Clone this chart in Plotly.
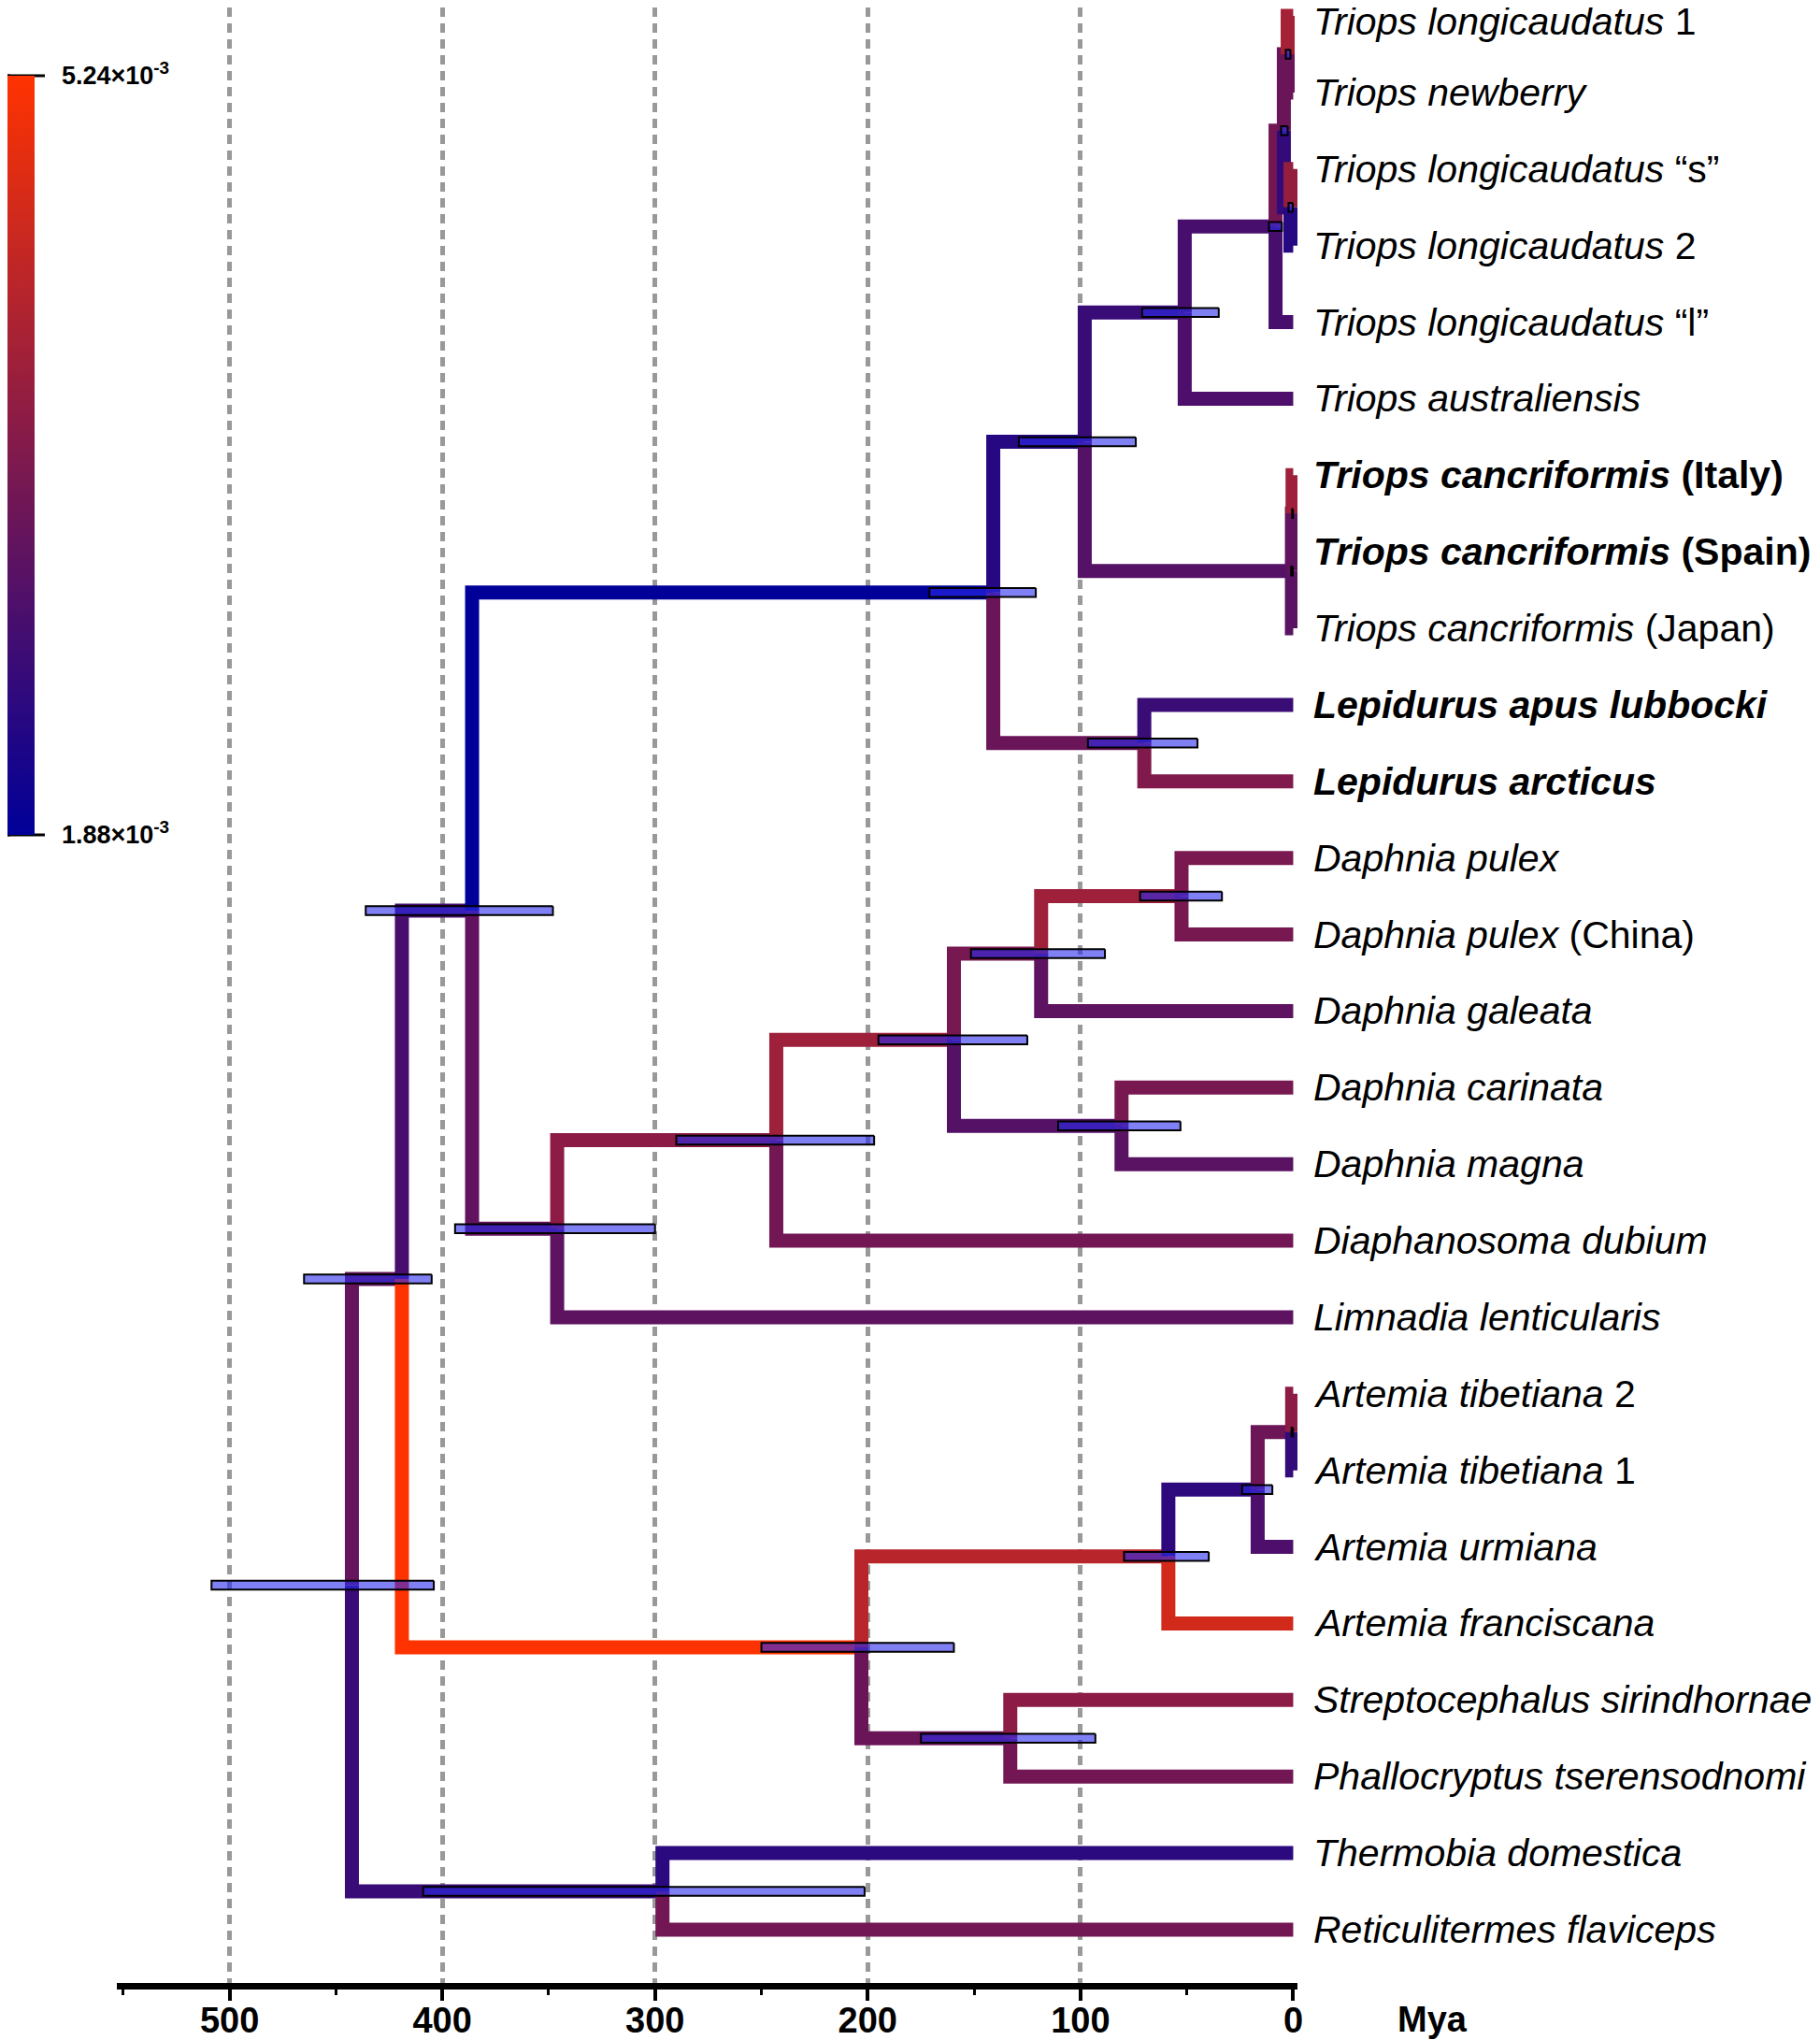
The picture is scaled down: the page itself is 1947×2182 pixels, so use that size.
import plotly.graph_objects as go
from plotly.colors import sample_colorscale

# ---------------- data ----------------
RATE_MIN, RATE_MAX = 1.88, 5.24  # substitution rate (x10^-3)
colorscale = [[0.0, "rgb(0,0,153)"], [1.0, "rgb(255,51,0)"]]

tip_labels = [
    "<i>Triops longicaudatus</i> 1",
    "<i>Triops newberry</i>",
    "<i>Triops longicaudatus</i> “s”",
    "<i>Triops longicaudatus</i> 2",
    "<i>Triops longicaudatus</i> “l”",
    "<i>Triops australiensis</i>",
    "<b><i>Triops cancriformis</i> (Italy)</b>",
    "<b><i>Triops cancriformis</i> (Spain)</b>",
    "<i>Triops cancriformis</i> (Japan)",
    "<b><i>Lepidurus apus lubbocki</i></b>",
    "<b><i>Lepidurus arcticus</i></b>",
    "<i>Daphnia pulex</i>",
    "<i>Daphnia pulex</i> (China)",
    "<i>Daphnia galeata</i>",
    "<i>Daphnia carinata</i>",
    "<i>Daphnia magna</i>",
    "<i>Diaphanosoma dubium</i>",
    "<i>Limnadia lenticularis</i>",
    "<i>Artemia tibetiana</i> 2",
    "<i>Artemia tibetiana</i> 1",
    "<i>Artemia urmiana</i>",
    "<i>Artemia franciscana</i>",
    "<i>Streptocephalus sirindhornae</i>",
    "<i>Phallocryptus tserensodnomi</i>",
    "<i>Thermobia domestica</i>",
    "<i>Reticulitermes flaviceps</i>",
]
tip_parent = ["T1c", "T1c", "T1d", "T1d", "T1a", "T1", "T2a", "T2a", "T2", "L", "L",
              "D5", "D5", "D3", "D4", "D4", "D1", "D", "A4", "A4", "A3", "A1",
              "A2", "A2", "I", "I"]
tip_rate = [4.06, 3.29, 3.83, 2.38, 2.82, 2.89, 3.96, 3.16, 3.06, 2.65, 3.56,
            3.49, 3.46, 3.12, 3.46, 3.06, 3.39, 3.12, 3.73, 2.55, 2.89, 4.64,
            3.73, 3.39, 2.45, 3.39]

node_name = ["R", "C", "P", "A", "I", "N", "D", "T", "L", "T1", "T2", "T1a", "T1b",
             "T1c", "T1d", "T2a", "D1", "D2", "D3", "D5", "D4", "A1", "A3", "A4", "A2"]
node_parent = [None, "R", "C", "C", "R", "P", "P", "N", "N", "T", "T", "T1", "T1a",
               "T1b", "T1b", "T2", "D", "D1", "D2", "D3", "D2", "A", "A1", "A3", "A"]
node_age = [442.5, 419, 386, 203, 296.5, 141, 346, 98, 70, 51, 0.6, 8.3, 4.4,
            2.6, 1.3, 0.3, 243, 159.5, 118.5, 52.5, 80.7, 58.7, 16.7, 0.5, 133]
node_rate = [None, 3.22, 2.82, 5.24, 2.62, 1.88, 3.16, 2.38, 3.29, 2.62, 2.99, 2.82, 3.39,
             3.29, 2.55, 3.16, 3.73, 3.96, 3.46, 3.96, 2.99, 4.30, 2.48, 3.32, 3.29]
hpd_young = [404, 405, 348, 159.5, 201.5, 121, 300, 74, 45, 35, 0.2, 5.3, 2.6,
             1.3, 0.2, 0.1, 197, 125, 88.5, 33.5, 53, 39.7, 9.8, 0.1, 93]
hpd_old = [508.5, 465, 436, 250, 409, 171, 394, 129, 96.5, 71, 1.0, 11.4, 5.7,
           3.5, 2.2, 0.5, 290, 195, 151.5, 72, 110.5, 79.5, 24, 0.8, 175]

x_ticks = [0, 100, 200, 300, 400, 500]

# ---------------- tree geometry ----------------
age = {n: a for n, a in zip(node_name, node_age)}
children = {n: [] for n in node_name}
for i, p in enumerate(tip_parent):
    children[p].append(("tip", i))
for n, p in zip(node_name, node_parent):
    if p is not None:
        children[p].append(("node", n))

ypos = {}


def node_y(n):
    if n in ypos:
        return ypos[n]
    ys = []
    for kind, c in children[n]:
        ys.append(c if kind == "tip" else node_y(c))
    ypos[n] = sum(ys) / len(ys)
    return ypos[n]


for n in node_name:
    node_y(n)


def rate_color(r):
    t = (r - RATE_MIN) / (RATE_MAX - RATE_MIN)
    return sample_colorscale(colorscale, [min(max(t, 0), 1)])[0]


fig = go.Figure()
LW = 15

# internal branches
for n, p, r in zip(node_name, node_parent, node_rate):
    if p is None:
        continue
    fig.add_trace(go.Scatter(
        x=[age[p], age[p], age[n]], y=[ypos[p], ypos[n], ypos[n]],
        mode="lines", line=dict(color=rate_color(r), width=LW),
        hoverinfo="skip", showlegend=False))
# tip branches
for i, (p, r) in enumerate(zip(tip_parent, tip_rate)):
    fig.add_trace(go.Scatter(
        x=[age[p], age[p], 0], y=[ypos[p], i, i],
        mode="lines", line=dict(color=rate_color(r), width=LW),
        hoverinfo="skip", showlegend=False))

# 95% HPD bars
H = 0.058
for n, lo, hi in zip(node_name, hpd_young, hpd_old):
    yc = ypos[n]
    fig.add_trace(go.Scatter(
        x=[lo, hi, hi, lo, lo], y=[yc - H, yc - H, yc + H, yc + H, yc - H],
        mode="lines", fill="toself", fillcolor="rgba(43,43,238,0.6)",
        line=dict(color="black", width=2), hoverinfo="skip", showlegend=False))

# ---------------- layout geometry ----------------
OFF = 8                      # page body margin of the html page
W, Hgt = 1947 - OFF, 2182 - OFF
ML, MR, MT, MB = 125 - OFF, 559, 0, 61
PW, PH = W - ML - MR, Hgt - MT - MB
FONT = "Liberation Sans, Arial, Helvetica, sans-serif"


def px_x(p):  # page pixel -> paper fraction
    return (p - OFF - ML) / PW


def px_y(p):
    return (Hgt - MB - (p - OFF)) / PH


# colour bar
CB_TOP, CB_BOT = 81, 893
fig.add_trace(go.Scatter(
    x=[None], y=[None], mode="markers", showlegend=False, hoverinfo="skip",
    marker=dict(color=[RATE_MIN], cmin=RATE_MIN, cmax=RATE_MAX, colorscale=colorscale,
                showscale=True,
                colorbar=dict(
                    x=px_x(OFF), xanchor="left", xpad=0, ypad=0,
                    y=px_y((CB_TOP + CB_BOT) / 2), yanchor="middle",
                    thickness=29, thicknessmode="pixels",
                    len=CB_BOT - CB_TOP, lenmode="pixels",
                    outlinewidth=0,
                    tickvals=[RATE_MIN, RATE_MAX],
                    ticktext=["<b>1.88×10<sup>-3</sup></b>", "<b>5.24×10<sup>-3</sup></b>"],
                    ticks="outside", ticklen=24, tickwidth=1, tickcolor="rgba(0,0,0,0)",
                    tickfont=dict(size=27, family=FONT, color="black")))))

shapes = [
    dict(type="line", xref="paper", yref="paper", x0=px_x(OFF + 1.5), x1=px_x(OFF + 1.5),
         y0=px_y(CB_TOP - 1.5), y1=px_y(CB_BOT + 1.5), line=dict(color="black", width=3)),
    dict(type="line", xref="paper", yref="paper", x0=px_x(OFF), x1=px_x(48),
         y0=px_y(CB_TOP), y1=px_y(CB_TOP), line=dict(color="black", width=3)),
    dict(type="line", xref="paper", yref="paper", x0=px_x(OFF), x1=px_x(48),
         y0=px_y(CB_BOT), y1=px_y(CB_BOT), line=dict(color="black", width=3)),
]

annotations = []
for i, lab in enumerate(tip_labels):
    annotations.append(dict(x=0, y=i, xref="x", yref="y", text=lab, showarrow=False,
                            xanchor="left", yanchor="middle", xshift=20,
                            yshift=-6 if i == 0 else 0,
                            font=dict(size=41, family=FONT, color="black")))
annotations.append(dict(x=px_x(1493), y=px_y(2160), xref="paper", yref="paper",
                        text="<b>Mya</b>", showarrow=False, xanchor="left", yanchor="middle",
                        font=dict(size=38, family=FONT, color="black")))

# y range: tip 0 at page pixel 17, spacing 81.88 px
SP = 81.88
TIP0 = 17 - OFF - MT
y_top = -TIP0 / SP
y_bot = (PH - TIP0) / SP

fig.update_layout(
    width=W, height=Hgt, margin=dict(l=ML, r=MR, t=MT, b=MB, autoexpand=False),
    plot_bgcolor="white", paper_bgcolor="white", showlegend=False,
    shapes=shapes, annotations=annotations,
    xaxis=dict(range=[553, -2], tickvals=x_ticks, ticktext=[str(v) for v in x_ticks],
               automargin=False,
               ticks="outside", ticklen=12, tickwidth=4, tickcolor="black",
               ticklabelstandoff=-12,
               showline=True, linewidth=7, linecolor="black",
               showgrid=True, gridcolor="#999999", gridwidth=5, griddash="10px,7px",
               zeroline=True, zerolinecolor="rgba(0,0,0,0)", zerolinewidth=1,
               minor=dict(dtick=50, tick0=0, ticks="outside", ticklen=6, tickwidth=3,
                          tickcolor="black", showgrid=False),
               tickfont=dict(size=38, family=FONT, color="black", weight="bold")),
    yaxis=dict(range=[y_bot, y_top], showgrid=False, showticklabels=False,
               automargin=False,
               zeroline=False, showline=False, ticks=""),
)

fig.write_html("out.html")
